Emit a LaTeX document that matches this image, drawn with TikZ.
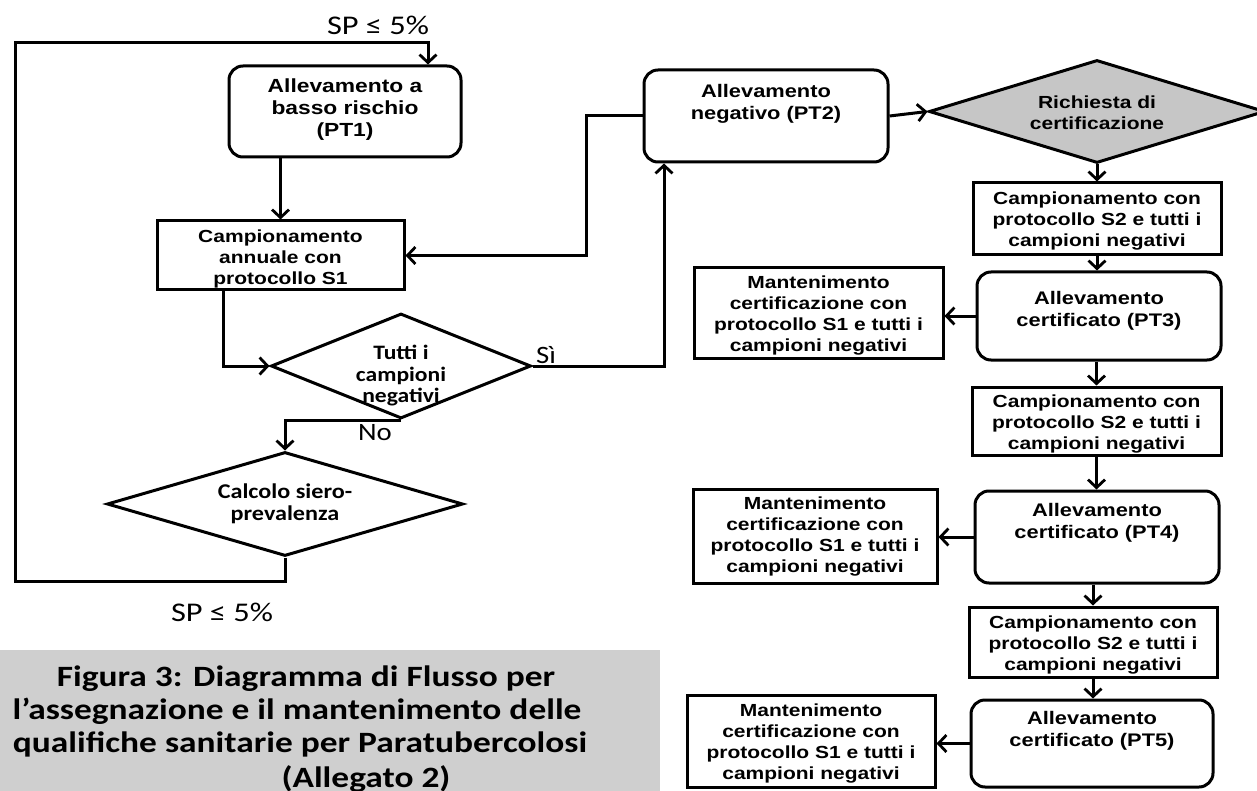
\documentclass[tikz,border=0pt]{standalone}
\usepackage{fontspec}
\usetikzlibrary{shapes.geometric,arrows.meta}
\newfontfamily\arialfont[FakeStretch=1.2]{Liberation Sans}
\newfontfamily\califont[FakeStretch=1.15]{Carlito}
\newfontfamily\spfont[FakeStretch=1.2]{Carlito}
\newfontfamily\capfont[FakeStretch=1.2]{Carlito}
\begin{document}
\begin{tikzpicture}[x=1pt,y=-1pt,
  arr/.style={line width=3pt,-{Straight Barb[length=8pt,width=17pt,line width=2.8pt]}},
  sqbox/.style={draw,line width=3pt,inner sep=0pt},
  rbox/.style={draw,line width=3pt,rounded corners=14pt,inner sep=0pt},
  dbox/.style={draw,line width=3pt,diamond,inner sep=0pt},
  btext/.style={font=\arialfont\bfseries\fontsize{17.5}{21}\selectfont,align=center,inner sep=0pt},
  ptext/.style={font=\arialfont\bfseries\fontsize{18.2}{22}\selectfont,align=center,inner sep=0pt},
  ctext/.style={font=\califont\bfseries\fontsize{20.5}{21.5}\selectfont,align=center,inner sep=0pt},
  ltext/.style={font=\califont\fontsize{25}{28}\selectfont,inner sep=0pt},
  sptext/.style={font=\spfont\fontsize{27}{30}\selectfont,inner sep=0pt},
  captext/.style={font=\capfont\bfseries\fontsize{29.5}{32}\selectfont,inner sep=0pt,anchor=base}]
\useasboundingbox (0,0) rectangle (1257,791);
\clip (0,0) rectangle (1257,791);

% caption background
\fill[gray!38] (0,650) rectangle (660,791);

% ---------- left column ----------
\node[rbox,minimum width=232,minimum height=91] (pt1) at (345,111.5) {};
\node[ptext,font=\arialfont\bfseries\fontsize{19}{22}\selectfont] (pt1t) at (345,110) {Allevamento a\\basso rischio\\(PT1)};

\node[sqbox,minimum width=247,minimum height=69] (camp1) at (280.5,255.5) {};
\node[btext] (camp1t) at (280.5,259) {Campionamento\\annuale con\\protocollo S1};

\node[dbox,minimum width=260,minimum height=105] (d1) at (401,366) {};
\node[ctext] (d1t) at (401,376) {Tutti i\\campioni\\negativi};

\node[dbox,minimum width=356,minimum height=104] (d2) at (285,504) {};
\node[ctext,font=\califont\bfseries\fontsize{21}{22}\selectfont] (d2t) at (285,504) {Calcolo siero-\\prevalenza};

\node[sptext] (sptop) at (378,25) {SP ≤ 5\%};
\node[sptext] (spbot) at (222,612) {SP ≤ 5\%};
\node[ltext] (si) at (546,355) {Sì};
\node[ltext] (no) at (375,433) {No};

% ---------- right column ----------
\node[rbox,minimum width=244,minimum height=92] (pt2) at (766,116) {};
\node[ptext] (pt2t) at (766,104) {Allevamento\\negativo (PT2)};

\node[dbox,fill=gray!45,minimum width=336,minimum height=103] (rich) at (1097,111.5) {};
\node[btext] (richt) at (1097,113) {Richiesta di\\certificazione};

\node[sqbox,minimum width=248,minimum height=72] (camp2a) at (1097,219) {};
\node[btext] (camp2at) at (1097,221) {Campionamento con\\protocollo S2 e tutti i\\campioni negativi};

\node[rbox,minimum width=244,minimum height=88] (pt3) at (1099,316) {};
\node[ptext] (pt3t) at (1099,311) {Allevamento\\certificato (PT3)};

\node[sqbox,minimum width=249,minimum height=90] (mant1) at (818.5,313) {};
\node[btext] (mant1t) at (818.5,316) {Mantenimento\\certificazione con\\protocollo S1 e tutti i\\campioni negativi};

\node[sqbox,minimum width=249,minimum height=68] (camp2b) at (1096.5,421) {};
\node[btext] (camp2bt) at (1096.5,424) {Campionamento con\\protocollo S2 e tutti i\\campioni negativi};

\node[rbox,minimum width=244,minimum height=92] (pt4) at (1097,537) {};
\node[ptext] (pt4t) at (1097,523) {Allevamento\\certificato (PT4)};

\node[sqbox,minimum width=244,minimum height=94] (mant2) at (815,536) {};
\node[btext] (mant2t) at (815,537) {Mantenimento\\certificazione con\\protocollo S1 e tutti i\\campioni negativi};

\node[sqbox,minimum width=248,minimum height=70] (camp2c) at (1093,642) {};
\node[btext] (camp2ct) at (1093,645) {Campionamento con\\protocollo S2 e tutti i\\campioni negativi};

\node[rbox,minimum width=242,minimum height=87] (pt5) at (1092,743.5) {};
\node[ptext] (pt5t) at (1092,731) {Allevamento\\certificato (PT5)};

\node[sqbox,minimum width=248,minimum height=92] (mant3) at (811,741) {};
\node[btext] (mant3t) at (811,744) {Mantenimento\\certificazione con\\protocollo S1 e tutti i\\campioni negativi};

% ---------- caption ----------
\node[captext] (cap1) at (306,686) {Figura 3: Diagramma di Flusso per};
\node[captext] (cap2) at (297,719) {l’assegnazione e il mantenimento delle};
\node[captext] (cap3) at (300,752) {qualifiche sanitarie per Paratubercolosi};
\node[captext] (cap4) at (366,787) {(Allegato 2)};

% ---------- connectors ----------
\coordinate (loopX) at (428,43);
\coordinate (loopL) at (15,43);
\coordinate (siX) at (664,0);
\coordinate (c1X) at (223,0);

\draw[arr] (d2.south) -- ++(0,24) -| (loopL) -- (loopX) -- (pt1.north -| loopX);
\draw[arr] (camp1.north |- pt1.south) -- (camp1.north);
\draw[arr] (camp1.south -| c1X) |- (d1.west);
\draw[arr] (d1.east) -| (pt2.south -| siX);
\draw[arr] (d1.south) -| (d2.north);
\draw[arr] (pt2.west) -- ++(-56,0) |- (camp1.east);
\draw[arr] (pt2.east) -- (rich.west);
\draw[arr] (rich.south) -- (rich.south |- camp2a.north);
\draw[arr] (camp2a.south) -- (camp2a.south |- pt3.north);
\draw[arr] (pt3.west) -- (pt3.west -| mant1.east);
\draw[arr] (pt3.south -| camp2b.north) -- (camp2b.north);
\draw[arr] (camp2b.south) -- (camp2b.south |- pt4.north);
\draw[arr] (pt4.west) -- (pt4.west -| mant2.east);
\draw[arr] (pt4.south -| camp2c.north) -- (camp2c.north);
\draw[arr] (camp2c.south) -- (camp2c.south |- pt5.north);
\draw[arr] (pt5.west) -- (pt5.west -| mant3.east);
\end{tikzpicture}
\end{document}
